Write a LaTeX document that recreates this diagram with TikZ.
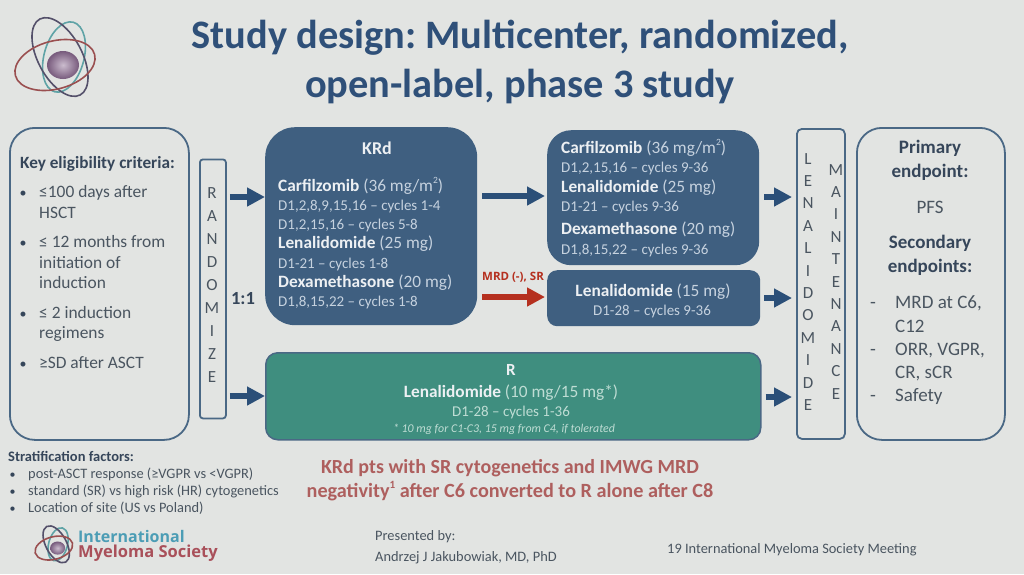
\documentclass[tikz,border=0pt]{standalone}
\usepackage{fontspec}
\setmainfont{Carlito}
\newfontfamily\logofont{Open Sans}
\usetikzlibrary{arrows.meta}
\definecolor{bgc}{HTML}{E2E4E2}
\definecolor{navy}{HTML}{4A6885}
\definecolor{boxblue}{HTML}{3F5F80}
\definecolor{titlec}{HTML}{2F5079}
\definecolor{arrowc}{HTML}{2B4F78}
\definecolor{redc}{HTML}{B5301F}
\definecolor{tealc}{HTML}{3F8E7F}
\definecolor{inkc}{HTML}{4A5560}
\definecolor{headc}{HTML}{36465A}
\definecolor{softc}{HTML}{C6D2DF}
\definecolor{softg}{HTML}{BFDDD4}
\definecolor{whitec}{HTML}{EDF0F3}
\definecolor{noteredc}{HTML}{AE5F5E}
\definecolor{orbd}{HTML}{54506A}
\definecolor{orbt}{HTML}{5FA3A6}
\definecolor{orbr}{HTML}{9A4F50}
\definecolor{nucc}{HTML}{8C6A92}
\definecolor{logot}{HTML}{4C9DB5}
\definecolor{logor}{HTML}{A9505A}
\newcommand{\fs}[1]{\fontsize{#1}{#1}\selectfont}
\newcommand{\supr}[1]{\raisebox{0.42em}{\fontsize{0.55em}{0.55em}\selectfont #1}}
\frenchspacing
\tikzset{
 x=1pt,y=-1pt,
 outline/.style={draw=navy,line width=1.8pt,fill=bgc,anchor=north west,inner sep=0pt},
 bluebox/.style={draw=none,fill=boxblue,anchor=north west,inner sep=0pt},
 txt/.style={anchor=base west,inner sep=0pt,text=inkc,font=\fs{17.4}},
 ctr/.style={anchor=base,inner sep=0pt,text=inkc,font=\fs{19}},
 head/.style={anchor=base,inner sep=0pt,text=headc,font=\fs{19}\bfseries},
 drug/.style={anchor=base west,inner sep=0pt,text=softc,font=\fs{17.3}},
 dose/.style={anchor=base west,inner sep=0pt,text=softc,font=\fs{15}},
 small/.style={anchor=base west,inner sep=0pt,text=inkc,font=\fs{14.4}},
 fat/.style={draw=arrowc,line width=5.5pt,-{Triangle[length=18pt,width=18pt]}},
 fatred/.style={draw=redc,line width=6.5pt,-{Triangle[length=18pt,width=18pt]}},
 atom/.pic={
  \draw[orbt,line width=1.6pt,rotate around={75:(64,57)}] (64,57) ellipse [x radius=36,y radius=20];
  \draw[orbd,line width=1.6pt,rotate around={-62:(60,57)}] (60,57) ellipse [x radius=43,y radius=22];
  \draw[orbr,line width=1.6pt,rotate around={15:(55,65)}] (55,65) ellipse [x radius=41,y radius=24];
  \shade[inner color=nucc!45!white,outer color=nucc!85!black] (63,65) ellipse [x radius=16,y radius=14];
 }
}
\newcommand{\bd}[1]{\textcolor{whitec}{\textbf{#1}}}
\begin{document}
\begin{tikzpicture}
\useasboundingbox (0,0) rectangle (1024,574);
\fill[bgc] (0,0) rectangle (1024,574);
\pic at (0,0) {atom};
\node[anchor=base,inner sep=0pt,text=titlec,font=\fs{40.4}\bfseries] (t1) at (520,48) {Study design: Multicenter, randomized,};
\node[anchor=base,inner sep=0pt,text=titlec,font=\fs{40.4}\bfseries] (t2) at (520,97) {open-label, phase 3 study};

% boxes
\node[outline,rounded corners=25pt,minimum width=179pt,minimum height=312pt] (elig) at (9,127) {};
\node[outline,rounded corners=3pt,minimum width=26pt,minimum height=259pt] (rand) at (199,158.5) {};
\node[bluebox,rounded corners=30pt,minimum width=212pt,minimum height=198pt] (krd) at (265,127) {};
\node[bluebox,rounded corners=24pt,minimum width=212pt,minimum height=135pt] (up) at (547,130) {};
\node[bluebox,rounded corners=10pt,minimum width=213pt,minimum height=56pt] (low) at (547,270) {};
\node[draw=navy,line width=1.5pt,fill=tealc,anchor=north west,inner sep=0pt,rounded corners=12pt,minimum width=495pt,minimum height=87pt] (rbox) at (265,352) {};
\node[outline,rounded corners=5pt,minimum width=48pt,minimum height=310pt] (lena) at (796,128) {};
\node[outline,rounded corners=25pt,minimum width=148pt,minimum height=312pt] (endp) at (856,127) {};

% connectors
\draw[fat] (rand.east |- 0,197) ++(3,0) coordinate (a1) -- (krd.west |- 0,197);
\draw[fat] (rand.east |- 0,396) ++(3,0) coordinate (a2) -- (rbox.west |- 0,396);
\draw[fat] (krd.east |- 0,196) ++(5,0) coordinate (a3) -- ([xshift=-2pt]up.west |- 0,196);
\draw[fatred] (krd.east |- 0,297) ++(5,0) coordinate (a4) -- ([xshift=-2pt]low.west |- 0,297);
\draw[fat] (up.east |- 0,197) ++(5,0) coordinate (a5) -- ([xshift=-4pt]lena.west |- 0,197);
\draw[fat] (low.east |- 0,298) ++(4,0) coordinate (a6) -- ([xshift=-4pt]lena.west |- 0,298);
\draw[fat] (rbox.east |- 0,397) ++(4,0) coordinate (a7) -- ([xshift=-4pt]lena.west |- 0,397);

% eligibility
\node[txt,font=\fs{17.2}\bfseries,text=headc] (e0) at (20,168) {Key eligibility criteria:};
\foreach \yy/\nm in {197/b1,318/b3,247/b2,368/b4}{\node[txt,text=headc,font=\fs{14}] (\nm) at (19.5,\yy) {•};}
\node[txt] (e1) at (39,197) {≤100 days after};
\node[txt] (e2) at (39,218) {HSCT};
\node[txt] (e3) at (39,247) {≤ 12 months from};
\node[txt] (e4) at (39,268) {initiation of};
\node[txt] (e5) at (39,288) {induction};
\node[txt] (e6) at (39,318) {≤ 2 induction};
\node[txt] (e7) at (39,338) {regimens};
\node[txt] (e8) at (39,368) {≥SD after ASCT};

% vertical
\node[anchor=north,inner sep=0pt,align=center,text=inkc,font=\fontsize{17}{23.1}\selectfont] (vr) at (212,187) {R\\A\\N\\D\\O\\M\\I\\Z\\E};
\node[anchor=north,inner sep=0pt,align=center,text=inkc,font=\fontsize{17}{22.4}\selectfont] (vl) at (808,153) {L\\E\\N\\A\\L\\I\\D\\O\\M\\I\\D\\E};
\node[anchor=north,inner sep=0pt,align=center,text=inkc,font=\fontsize{17}{22.4}\selectfont] (vm) at (836,164) {M\\A\\I\\N\\T\\E\\N\\A\\N\\C\\E};
\node[anchor=base,inner sep=0pt,text=headc,font=\fs{18.5}\bfseries] (ratio) at (243,304) {1:1};

% KRd
\node[anchor=base,inner sep=0pt,text=whitec,font=\fs{18}\bfseries] (k0) at (377,154) {KRd};
\node[drug] (k1) at (278,191) {\bd{Carfilzomib} (36 mg/m\supr{2})};
\node[dose] (k2) at (278,210) {D1,2,8,9,15,16 – cycles 1-4};
\node[dose] (k3) at (278,229) {D1,2,15,16 – cycles 5-8};
\node[drug] (k4) at (278,248) {\bd{Lenalidomide} (25 mg)};
\node[dose] (k5) at (278,268) {D1-21 – cycles 1-8};
\node[drug] (k6) at (278,287) {\bd{Dexamethasone} (20 mg)};
\node[dose] (k7) at (278,306) {D1,8,15,22 – cycles 1-8};
\node[anchor=base,inner sep=0pt,text=redc,font=\fs{11.5}\bfseries\logofont] (mrd) at (513,280) {MRD (-), SR};

% upper right
\node[drug] (u1) at (561,153) {\bd{Carfilzomib} (36 mg/m\supr{2})};
\node[dose] (u2) at (561,172) {D1,2,15,16 – cycles 9-36};
\node[drug] (u3) at (561,192) {\bd{Lenalidomide} (25 mg)};
\node[dose] (u4) at (561,211) {D1-21 – cycles 9-36};
\node[drug] (u5) at (561,234) {\bd{Dexamethasone} (20 mg)};
\node[dose] (u6) at (561,254) {D1,8,15,22 – cycles 9-36};

% lower right
\node[drug,anchor=base] (l1) at (653,296) {\bd{Lenalidomide} (15 mg)};
\node[dose,anchor=base] (l2) at (652,315) {D1-28 – cycles 9-36};

% R
\node[anchor=base,inner sep=0pt,text=whitec,font=\fs{17}\bfseries] (r0) at (511,375) {R};
\node[drug,anchor=base,text=softg] (r1) at (511,397) {\bd{Lenalidomide} (10 mg/15 mg*)};
\node[dose,anchor=base,text=softg] (r2) at (511,416) {D1-28 – cycles 1-36};
\node[anchor=base,inner sep=0pt,text=softg,font=\fs{11.9}\itshape] (r3) at (504,432) {* 10 mg for C1-C3, 15 mg from C4, if tolerated};

% endpoints
\node[head] (p1) at (930,153) {Primary};
\node[head] (p2) at (930,177) {endpoint:};
\node[ctr] (p3) at (930,213) {PFS};
\node[head] (p4) at (930,248) {Secondary};
\node[head] (p5) at (930,272) {endpoints:};
\foreach \yy/\nm in {308/d1,355/d2,401/d3}{\node[txt,font=\fs{19}] (\nm) at (870,\yy) {-};}
\node[txt,font=\fs{19}] (q1) at (895,308) {MRD at C6,};
\node[txt,font=\fs{19}] (q2) at (895,332) {C12};
\node[txt,font=\fs{19}] (q3) at (895,355) {ORR, VGPR,};
\node[txt,font=\fs{19}] (q4) at (895,378) {CR, sCR};
\node[txt,font=\fs{19}] (q5) at (895,401) {Safety};

% stratification
\node[small,font=\fs{14.5}\bfseries,text=headc] (s0) at (8,461) {Stratification factors:};
\foreach \yy/\nm in {478/c1,495/c2,512/c3}{\node[small,text=headc,font=\fs{12}] (\nm) at (9.5,\yy) {•};}
\node[small] (s1) at (28,478) {post-ASCT response (≥VGPR vs <VGPR)};
\node[small] (s2) at (28,495) {standard (SR) vs high risk (HR) cytogenetics};
\node[small] (s3) at (28,512) {Location of site (US vs Poland)};

% red note
\node[anchor=base,inner sep=0pt,text=noteredc,font=\fs{20}\bfseries] (n1) at (510,473) {KRd pts with SR cytogenetics and IMWG MRD};
\node[anchor=base,inner sep=0pt,text=noteredc,font=\fs{20.2}\bfseries] (n2) at (510,497) {negativity\supr{1} after C6 converted to R alone after C8};

% footer
\begin{scope}[shift={(28,517.5)},scale=0.47,transform shape]
\pic at (0,0) {atom};
\end{scope}
\node[anchor=base west,inner sep=0pt,text=logot,font=\fs{16}\bfseries\logofont] (lg1) at (78,542) {International};
\node[anchor=base west,inner sep=0pt,text=logor,font=\fs{16.5}\bfseries\logofont] (lg2) at (78,557) {Myeloma Society};
\node[small] (f1) at (375,540) {Presented by:};
\node[small] (f2) at (375,561) {Andrzej J Jakubowiak, MD, PhD};
\node[small] (f3) at (667,553) {19 International Myeloma Society Meeting};
\end{tikzpicture}
\end{document}
